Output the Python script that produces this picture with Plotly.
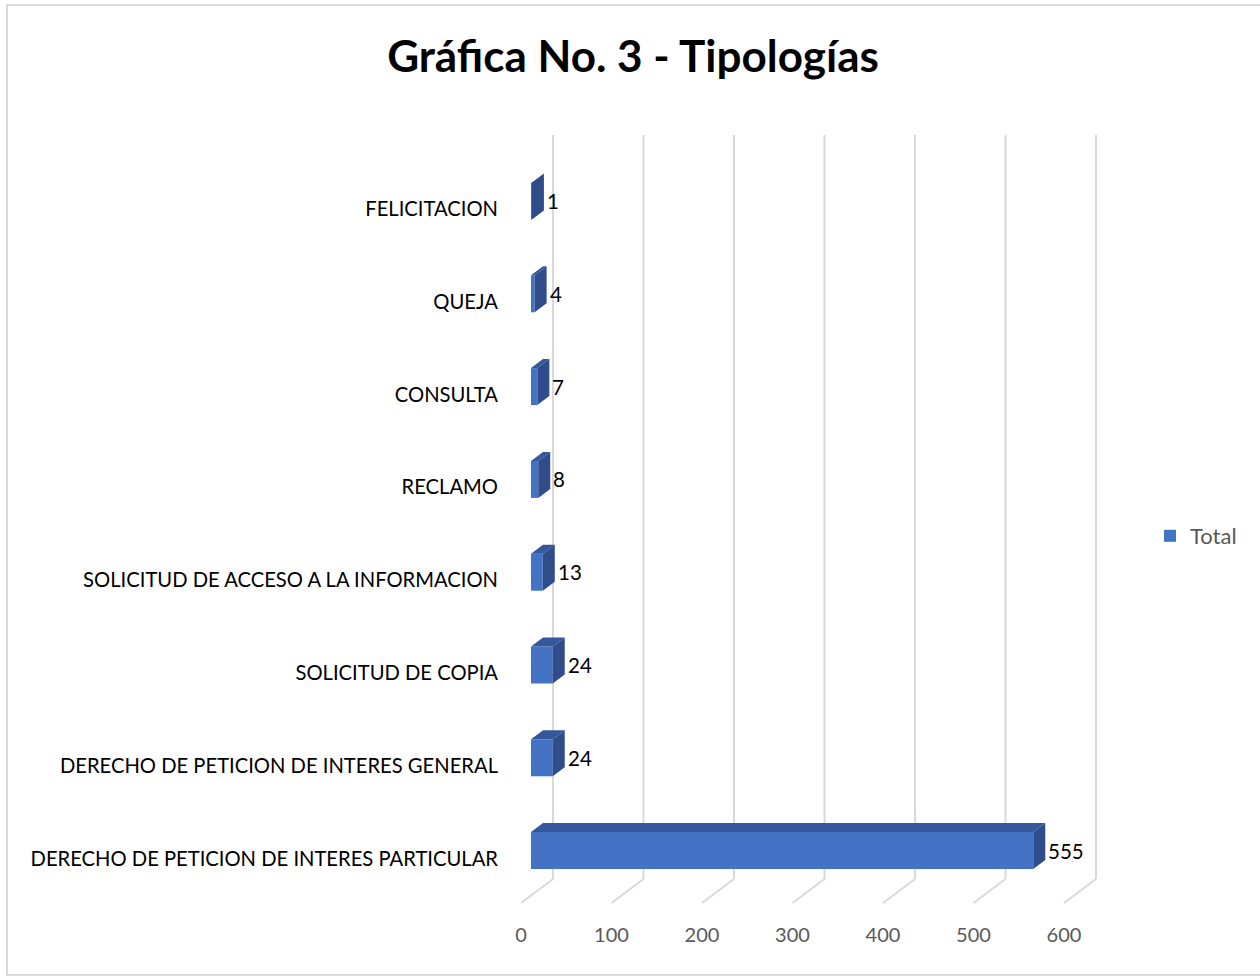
import plotly.graph_objects as go

# ---- data (bottom to top, as drawn) ----
categories = [
    "DERECHO DE PETICION DE INTERES PARTICULAR",
    "DERECHO DE PETICION DE INTERES GENERAL",
    "SOLICITUD DE COPIA",
    "SOLICITUD DE ACCESO A LA INFORMACION",
    "RECLAMO",
    "CONSULTA",
    "QUEJA",
    "FELICITACION",
]
values = [555, 24, 24, 13, 8, 7, 4, 1]
x_ticks = [0, 100, 200, 300, 400, 500, 600]
series_name = "Total"
title_text = "Gráfica No. 3 - Tipologías"

W, H = 1260, 979
def px(x):
    return x / W
def py(y):
    return 1 - y / H

FRONT = "#4472c4"
SIDE = "#2e4d8a"
TOP = "#34589b"
GRID = "#d9d9d9"
FONT = "Lato"

xmax = 600
scale = 0.905            # px per unit
cat_px = 92.8            # px per category
bar_top_c, lab_top_c = 201, 209
bw = 37 / cat_px
dx = 12 / scale
dy = 9 / cat_px

n = len(categories)
idx = list(range(n))

fig = go.Figure()

# ---- back wall grid + floor lines (first subplot -> drawn behind bars) ----
back_bottom, back_top, front_y = 879, 135, 903
shift_units = 32 / scale
pad = 45
gx, gy = [], []
for t in x_ticks:
    gx += [t, t, None, t, t - shift_units, None]
    gy += [back_top, back_bottom, None, back_bottom, front_y, None]
fig.add_trace(go.Scatter(x=gx, y=gy, xaxis="x", yaxis="y", mode="lines",
                         line=dict(color=GRID, width=2), showlegend=False,
                         hoverinfo="skip"))

# front faces
fig.add_trace(go.Bar(
    x=values, y=idx, orientation="h", width=bw, xaxis="x2", yaxis="y2",
    marker=dict(color=FRONT, line=dict(width=0)),
    name=series_name, showlegend=True, hoverinfo="x+name",
))

# side and top faces (3D effect) derived from the values
sx, sy, tx, ty = [], [], [], []
for i, v in zip(idx, values):
    y0, y1 = i - bw / 2, i + bw / 2
    sx += [v, v + dx, v + dx, v, v, None]
    sy += [y0, y0 + dy, y1 + dy, y1, y0, None]
    tx += [0, dx, v + dx, v, 0, None]
    ty += [y1, y1 + dy, y1 + dy, y1, y1, None]
fig.add_trace(go.Scatter(x=sx, y=sy, xaxis="x2", yaxis="y2", fill="toself",
                         fillcolor=SIDE, mode="lines", line=dict(width=0, color=SIDE),
                         showlegend=False, hoverinfo="skip"))
fig.add_trace(go.Scatter(x=tx, y=ty, xaxis="x2", yaxis="y2", fill="toself",
                         fillcolor=TOP, mode="lines", line=dict(width=0, color=TOP),
                         showlegend=False, hoverinfo="skip"))

# dummy traces for the front tick-label axis and the category-label axis
fig.add_trace(go.Scatter(x=[], y=[], xaxis="x3", yaxis="y3", showlegend=False))
fig.add_trace(go.Scatter(x=[], y=[], xaxis="x4", yaxis="y4", showlegend=False))

# data labels
for i, v in zip(idx, values):
    fig.add_annotation(x=v, y=i, xref="x2", yref="y2", text=str(v), showarrow=False,
                       xanchor="left", yanchor="middle", xshift=13, yshift=0,
                       font=dict(family=FONT, size=20.5, color="#000000"))

# chart border
fig.add_shape(type="rect", xref="paper", yref="paper",
              x0=px(7), y0=py(975), x1=1.02, y1=py(5),
              line=dict(color="#d9d9d9", width=2), layer="below")

def cat_domain(top_center):
    lo = top_center + cat_px * (n - 1) + cat_px / 2
    hi = top_center - cat_px / 2
    return [py(lo), py(hi)]

fig.update_layout(
    width=W, height=H,
    margin=dict(l=0, r=0, t=0, b=0, autoexpand=False),
    paper_bgcolor="white", plot_bgcolor="rgba(0,0,0,0)",
    title=dict(text=title_text, x=px(633), xanchor="center", y=py(57), yanchor="middle",
               font=dict(family=FONT, size=44, color="#000000", weight="bold")),
    # grid subplot (pixel-like y units)
    xaxis=dict(domain=[px(553 - pad * scale), px(553 + (xmax + 10) * scale)],
               range=[-pad, xmax + 10], anchor="y", visible=False, automargin=False),
    yaxis=dict(domain=[py(920), py(130)], range=[920, 130], anchor="x",
               visible=False, automargin=False),
    # bars subplot
    xaxis2=dict(domain=[px(531), px(531 + xmax * scale)], range=[0, xmax], anchor="y2",
                showgrid=False, zeroline=False, showticklabels=False, showline=False,
                automargin=False),
    yaxis2=dict(domain=cat_domain(bar_top_c), range=[-0.5, n - 0.5], anchor="x2",
                showgrid=False, zeroline=False, showticklabels=False, showline=False,
                automargin=False),
    # front value-axis tick labels
    xaxis3=dict(domain=[px(521), px(521 + xmax * scale)], range=[0, xmax], anchor="y3",
                tickvals=x_ticks, showgrid=False, zeroline=False, showline=False,
                ticks="", ticklabelstandoff=6, automargin=False,
                tickfont=dict(family=FONT, size=20, color="#595959")),
    yaxis3=dict(domain=[py(915), py(913)], range=[0, 1], anchor="x3", visible=False,
                automargin=False),
    # category labels
    xaxis4=dict(domain=[px(531), px(531 + xmax * scale)], range=[0, xmax], anchor="y4",
                visible=False, automargin=False),
    yaxis4=dict(domain=cat_domain(lab_top_c), range=[-0.5, n - 0.5], anchor="x4",
                tickvals=idx, ticktext=categories, showgrid=False, zeroline=False,
                showline=False, ticks="", ticklabelstandoff=32, automargin=False,
                tickfont=dict(family=FONT, size=20.2, color="#000000")),
    legend=dict(x=px(1150), y=py(536), xanchor="left", yanchor="middle",
                font=dict(family=FONT, size=22, color="#595959"),
                bgcolor="rgba(0,0,0,0)", itemwidth=30),
    showlegend=True,
)

fig.write_html("out.html", config={"displayModeBar": False},
               post_script="document.body.style.margin='0';")
